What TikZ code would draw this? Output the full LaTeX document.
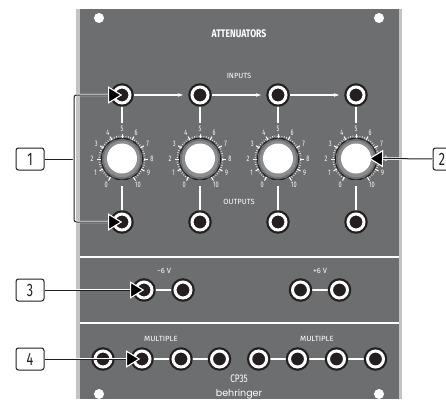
\documentclass[tikz,border=0pt]{standalone}
\usepackage{fontspec}
\setmainfont{Fira Sans}
\newfontfamily\brandfont{Poppins}
\usetikzlibrary{arrows.meta,backgrounds,shapes.geometric,calc}
\definecolor{panelgrey}{HTML}{6D6E70}
\definecolor{edgegrey}{HTML}{C2C3C4}
\definecolor{jackdark}{HTML}{231F20}
\definecolor{knobgrey}{HTML}{8C8D8F}
\newcommand{\nar}[2][.68]{\scalebox{#1}[1]{#2}}
\tikzset{
  x=1pt,y=-1pt,
  jack/.style={circle,minimum size=16pt,inner sep=0pt,outer sep=0pt,fill=jackdark,draw=white,line width=3pt,
    preaction={draw=jackdark,line width=7.4pt}},
  wire/.style={draw=white,line width=1.5pt},
  flow/.style={draw=white,line width=1.1pt,-{Stealth[length=5pt,width=3.5pt]},shorten <=4pt,shorten >=9pt},
  panellabel/.style={text=white,font=\fontsize{7.5}{8}\selectfont,inner sep=0pt},
  scalelabel/.style={text=white,font=\fontsize{8}{9}\selectfont,inner sep=0pt},
  knobcap/.style={circle,fill=white,minimum size=30pt,inner sep=0pt,outer sep=0pt},
  ring/.style={regular polygon,regular polygon sides=14,inner sep=0pt,outer sep=0pt},
  callout/.style={draw=jackdark,rounded corners=2.5pt,line width=1pt,fill=white,minimum width=28pt,minimum height=22pt,inner sep=0pt,
    font=\fontsize{18}{18}\selectfont,text=jackdark},
  leader/.style={draw=jackdark,line width=1pt,rounded corners=2.5pt,
    preaction={draw=white,line width=2.4pt}},
  pointer/.style={leader,-{Triangle[length=14pt,width=17pt,color=white,fill=black,line width=1pt]}},
  hole/.style={circle,fill=white,minimum size=10pt,inner sep=0pt},
}
\begin{document}
\begin{tikzpicture}
\useasboundingbox (0,0) rectangle (446,399);
\clip (0,0) rectangle (446,399);
\begin{scope}[on background layer]
  \fill[edgegrey] (76,9) rectangle (402,399);
  \fill[panelgrey] (80,9) rectangle (399,399);
  \draw[white,line width=1.5pt] (80,257) -- (399,257);
  \draw[white,line width=1.5pt] (80,323) -- (399,323);
\end{scope}
\node[hole] (h1) at (99,18) {};
\node[hole] (h2) at (379,18) {};
\node[hole] (h3) at (99,394) {};
\node[hole] (h4) at (379,394) {};
\node[text=white,inner sep=0pt,font=\fontsize{11}{12}\selectfont\bfseries] (title) at (239,34) {\nar[.78]{ATTENUATORS}};
\node[panellabel] (tin) at (239,76) {INPUTS};
\node[panellabel] (tout) at (239,202) {OUTPUTS};
\node[panellabel] (tm6) at (164,271) {−6 V};
\node[panellabel] (tp6) at (320,271) {+6 V};
\node[panellabel] (tm1) at (161,339) {\nar[1.05]{MULTIPLE}};
\node[panellabel] (tm2) at (317,339) {\nar[1.05]{MULTIPLE}};
\node[text=white,inner sep=0pt,font=\fontsize{11}{12}\selectfont] (cp) at (239,379) {\nar[.75]{CP35}};
\node[text=white,inner sep=0pt,font=\fontsize{9.5}{10}\selectfont\brandfont] (brand) at (239,394) {\nar[1]{behringer}};
% knob columns
\foreach \i/\x in {1/122,2/200,3/278,4/356}{
  \node[jack] (in\i) at (\x,95) {};
  \node[jack] (out\i) at (\x,222) {};
  \node[ring,fill=jackdark,minimum size=43pt] (kb\i) at (\x,159) {};
  \node[ring,fill=panelgrey,minimum size=41pt,rotate=12] (kc\i) at (\x,159) {};
  \node[ring,fill=knobgrey,minimum size=37pt] (kd\i) at (\x,159) {};
  \node[knobcap] (k\i) at (\x,158.5) {};
  \foreach \n/\a in {0/238,1/208,2/180,3/149,4/118,5/90,6/62,7/31,8/0,9/-28,{10}/-58}{
    \node[scalelabel] at ($(\x,159)+({30*cos(\a)},{-30*sin(\a)})$) {\nar[.7]{\n}};
    \draw[white,line width=1pt] ($(\x,159)+({21.5*cos(\a)},{-21.5*sin(\a)})$) -- ($(\x,159)+({25.5*cos(\a)},{-25.5*sin(\a)})$);
  }
  \foreach \a in {-58,-52,...,238}{
    \draw[white,line width=.6pt] ($(\x,159)+({22*cos(\a)},{-22*sin(\a)})$) -- ($(\x,159)+({23.5*cos(\a)},{-23.5*sin(\a)})$);
  }
  \begin{scope}[on background layer]
    \draw[wire,shorten >=21pt] (in\i) -- (k\i);
    \draw[wire,shorten >=12pt] (out\i) -- (k\i);
  \end{scope}
}
\draw[flow] (in1) -- (in2);
\draw[flow] (in2) -- (in3);
\draw[flow] (in3) -- (in4);
% middle jacks
\node[jack] (a1) at (144,290) {};
\node[jack] (a2) at (183,290) {};
\node[jack] (b1) at (300.5,290) {};
\node[jack] (b2) at (339.5,290) {};
% multiple jacks
\foreach \i/\x in {1/103,2/142,3/181,4/219.5,5/258.7,6/297.5,7/336.5,8/375.5}{
  \node[jack] (m\i) at (\x,359) {};
}
\begin{scope}[on background layer]
  \draw[wire] (a1) -- (a2);
  \draw[wire] (b1) -- (b2);
  \draw[wire] (m2) -- (m3);
  \draw[wire] (m3) -- (m4);
  \draw[wire] (m5) -- (m6);
  \draw[wire] (m6) -- (m7);
  \draw[wire] (m7) -- (m8);
\end{scope}
% callouts
\node[callout] (c1) at (30,159) {\nar[.7]{1}};
\node[callout] (c2) at (447,159) {\hspace*{-10pt}\nar[.7]{2}};
\node[callout] (c3) at (30,290) {\nar[.7]{3}};
\node[callout] (c4) at (30,359) {\nar[.7]{4}};
\coordinate (bk) at (74,159);
\draw[draw=jackdark,line width=1pt] (c1) -- (bk);
\draw[pointer] (bk) |- (in1.center);
\draw[pointer] (bk) |- (out1.center);
\draw[pointer] (c2) -- ($(k4)+(13,0)$);
\draw[pointer] (c3) -- (a1.center);
\draw[pointer] (c4) -- ($(m2)+(-2,0)$);
\end{tikzpicture}
\end{document}
